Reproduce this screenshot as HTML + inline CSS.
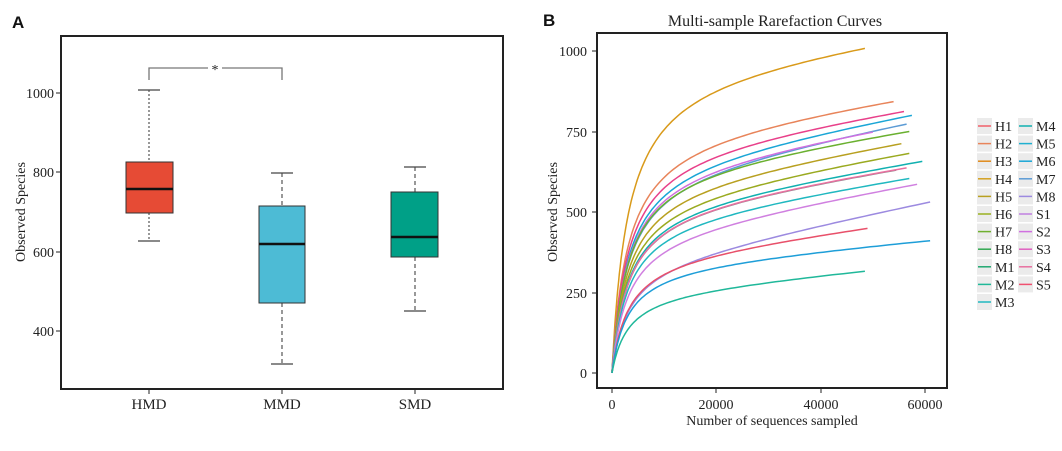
<!DOCTYPE html>
<html><head><meta charset="utf-8"><style>
body{margin:0;background:#fff;width:1062px;height:446px;overflow:hidden}
svg text{font-family:"Liberation Serif",serif;fill:#222}
</style></head><body>
<svg id="s" width="1062" height="446" viewBox="0 0 1062 446">
<text x="12" y="28" style="font-family:'Liberation Sans',sans-serif;font-weight:bold;font-size:17px;fill:#111">A</text>
<text x="543" y="26" style="font-family:'Liberation Sans',sans-serif;font-weight:bold;font-size:17px;fill:#111">B</text>
<rect x="61" y="36" width="442" height="353" fill="none" stroke="#222" stroke-width="2"/>
<g font-size="14" text-anchor="end">
<text x="54" y="98">1000</text><text x="54" y="177">800</text><text x="54" y="257">600</text><text x="54" y="336">400</text>
</g>
<g stroke="#222"><line x1="56" x2="61" y1="93" y2="93"/><line x1="56" x2="61" y1="172" y2="172"/><line x1="56" x2="61" y1="252" y2="252"/><line x1="56" x2="61" y1="331" y2="331"/>
<line x1="149" x2="149" y1="389" y2="394"/><line x1="282" x2="282" y1="389" y2="394"/><line x1="415" x2="415" y1="389" y2="394"/></g>
<g font-size="15" text-anchor="middle"><text x="149" y="409">HMD</text><text x="282" y="409">MMD</text><text x="415" y="409">SMD</text></g>
<text transform="translate(25,212) rotate(-90)" font-size="14" text-anchor="middle">Observed Species</text>
<path d="M149 80V68H208M222 68H282V80" fill="none" stroke="#777" stroke-width="1.3"/>
<text x="215" y="74" font-size="14" text-anchor="middle">*</text>
<g stroke="#555" stroke-dasharray="2,2" stroke-width="1.2"><line x1="149" x2="149" y1="90" y2="162"/><line x1="149" x2="149" y1="213" y2="241"/></g>
<g stroke="#555" stroke-dasharray="4,3" stroke-width="1.2"><line x1="282" x2="282" y1="173" y2="206"/><line x1="282" x2="282" y1="303" y2="364"/><line x1="415" x2="415" y1="167" y2="192"/><line x1="415" x2="415" y1="257" y2="311"/></g>
<g stroke="#444" stroke-width="1.2"><line x1="138" x2="160" y1="90" y2="90"/><line x1="138" x2="160" y1="241" y2="241"/><line x1="271" x2="293" y1="173" y2="173"/><line x1="271" x2="293" y1="364" y2="364"/><line x1="404" x2="426" y1="167" y2="167"/><line x1="404" x2="426" y1="311" y2="311"/></g>
<rect x="126" y="162" width="47" height="51" fill="#E64B35" stroke="#333"/>
<rect x="259" y="206" width="46" height="97" fill="#4DBBD5" stroke="#333"/>
<rect x="391" y="192" width="47" height="65" fill="#00A087" stroke="#333"/>
<g stroke="#111" stroke-width="2.5"><line x1="126" x2="173" y1="189" y2="189"/><line x1="259" x2="305" y1="244" y2="244"/><line x1="391" x2="438" y1="237" y2="237"/></g>
<text x="775" y="26" font-size="16" text-anchor="middle">Multi-sample Rarefaction Curves</text>
<rect x="597" y="33" width="350" height="355" fill="none" stroke="#222" stroke-width="2"/>
<g font-size="14" text-anchor="end"><text x="587" y="56">1000</text><text x="587" y="137">750</text><text x="587" y="217">500</text><text x="587" y="298">250</text><text x="587" y="378">0</text></g>
<g stroke="#222"><line x1="592" x2="597" y1="51" y2="51"/><line x1="592" x2="597" y1="132" y2="132"/><line x1="592" x2="597" y1="212" y2="212"/><line x1="592" x2="597" y1="293" y2="293"/><line x1="592" x2="597" y1="373" y2="373"/>
<line x1="612" x2="612" y1="388" y2="393"/><line x1="716" x2="716" y1="388" y2="393"/><line x1="821" x2="821" y1="388" y2="393"/><line x1="925" x2="925" y1="388" y2="393"/></g>
<g font-size="14" text-anchor="middle"><text x="612" y="409">0</text><text x="716" y="409">20000</text><text x="821" y="409">40000</text><text x="925" y="409">60000</text></g>
<text x="772" y="425" font-size="14" text-anchor="middle">Number of sequences sampled</text>
<text transform="translate(557,212) rotate(-90)" font-size="14" text-anchor="middle">Observed Species</text>
<g id="curves" fill="none" stroke-width="1.5"></g>
<g id="leg" font-size="14"></g>
</svg>
<script>
var ns="http://www.w3.org/2000/svg";
var C=[["#D99A1A",48500,1008,2.4e-6],["#E8845A",54000,843,3e-6],["#5C9BD5",56500,773,4.5e-6],["#1AA6D6",57500,800,4e-6],["#E8408A",56000,812,3.3e-6],["#D070E0",50000,748,3.8e-6],["#6AB030",57000,750,3.5e-6],["#B8A020",55500,712,4.2e-6],["#9AAA20",57000,682,4.5e-6],["#10B0B0",59500,657,4.5e-6],["#888888",54500,630,4.5e-6],["#E870A0",56500,637,4.5e-6],["#20B8C0",57000,604,4.8e-6],["#D080E0",58500,586,6e-6],["#9C8AE0",61000,531,9e-6],["#E8506A",49000,449,5.5e-6],["#1E9ED8",61000,411,4e-6],["#20B89A",48500,316,5.7e-6]];
var g=document.getElementById("curves");
C.forEach(function(c){var xe=c[1],ye=c[2],b=c[3],k=3000;
function f(x){return x/(x+k)+b*x;}
var fe=f(xe),d="";
for(var i=0;i<=100;i++){var x=xe*Math.pow(i/100,2.2);var y=ye*f(x)/fe;d+=(i?"L":"M")+(612+x*104.3/20000).toFixed(1)+" "+(373-y*0.322).toFixed(1);}
var p=document.createElementNS(ns,"path");p.setAttribute("d",d);p.setAttribute("stroke",c[0]);g.appendChild(p);});
var L=[["H1","#F0606A"],["H2","#E8845A"],["H3","#E08A1A"],["H4","#D4A020"],["H5","#B8A020"],["H6","#9AB020"],["H7","#70B030"],["H8","#30A850"],["M1","#20A870"],["M2","#20B898"],["M3","#20B8C0"],["M4","#10B0B0"],["M5","#20B0D0"],["M6","#1AA6D6"],["M7","#5C9BD5"],["M8","#9C8AE0"],["S1","#C080E0"],["S2","#D070E0"],["S3","#E060C0"],["S4","#E870A0"],["S5","#F05070"]];
var lg=document.getElementById("leg");
L.forEach(function(l,i){var col=i<11?0:1,row=i<11?i:i-11;var x=col?1018:977,y=126+row*17.6;
var r=document.createElementNS(ns,"rect");r.setAttribute("x",x);r.setAttribute("y",y-8);r.setAttribute("width",15);r.setAttribute("height",16);r.setAttribute("fill","#EBEBEB");lg.appendChild(r);
var ln=document.createElementNS(ns,"line");ln.setAttribute("x1",x+1);ln.setAttribute("x2",x+14);ln.setAttribute("y1",y);ln.setAttribute("y2",y);ln.setAttribute("stroke",l[1]);ln.setAttribute("stroke-width",1.5);lg.appendChild(ln);
var t=document.createElementNS(ns,"text");t.setAttribute("x",x+18);t.setAttribute("y",y+5);t.textContent=l[0];lg.appendChild(t);});
</script>
</body></html>
